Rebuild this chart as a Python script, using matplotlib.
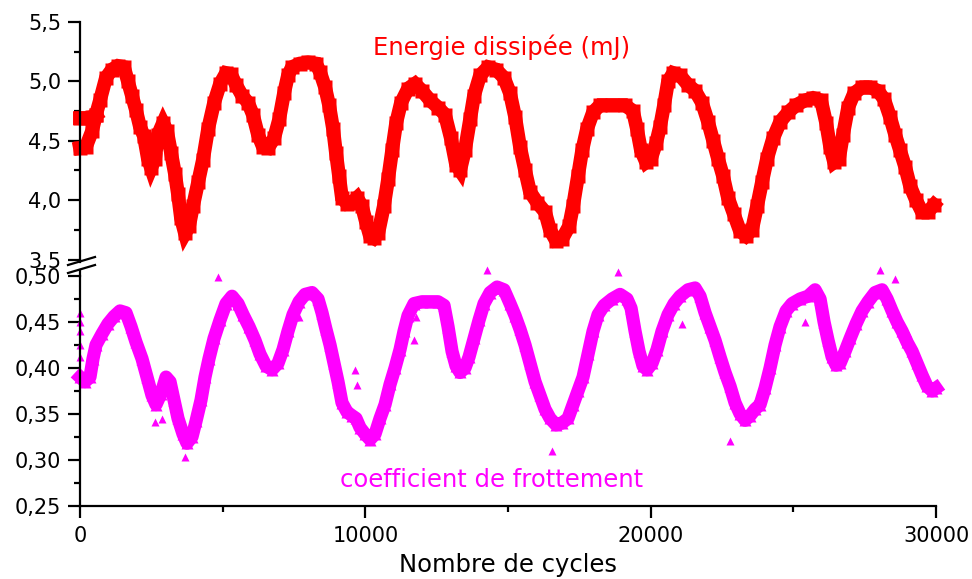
import matplotlib
matplotlib.use('Agg')
import matplotlib.pyplot as plt
from matplotlib.lines import Line2D
from matplotlib.ticker import MultipleLocator

# ---------------- data ----------------
cycles_energy = [0, 210, 420, 560, 700, 910, 1120, 1330, 1540, 1680, 1820, 1960, 2100, 2240,
                 2380, 2490, 2630, 2730, 2910, 3050, 3190, 3330, 3435, 3540, 3680, 3820,
                 3960, 4140, 4310, 4490, 4700, 4910, 5120, 5290, 5470, 5680, 5890, 6060,
                 6240, 6410, 6590, 6800, 6980, 7150, 7290, 7430, 7710, 7990, 8270, 8410,
                 8590, 8730, 8870, 8970, 9080, 9180, 9360, 9530, 9710, 9880, 10020, 10160,
                 10300, 10450, 10650, 10800, 10940, 11080, 11250, 11500, 11740, 11990,
                 12270, 12550, 12790, 13000, 13180, 13320, 13490, 13670, 13810, 14020,
                 14300, 14580, 14860, 15070, 15250, 15420, 15600, 15770, 16020, 16300,
                 16470, 16680, 16890, 17140, 17280, 17450, 17600, 17770, 17980, 18230,
                 18650, 19100, 19380, 19520, 19660, 19840, 20010, 20190, 20330, 20470,
                 20610, 20790, 21030, 21310, 21560, 21800, 22010, 22190, 22360, 22540,
                 22710, 22920, 23130, 23340, 23550, 23730, 23900, 24080, 24290, 24540,
                 24820, 25100, 25410, 25690, 25970, 26150, 26290, 26430, 26600, 26740,
                 26920, 27130, 27410, 27690, 27970, 28180, 28390, 28570, 28740, 28920,
                 29090, 29300, 29510, 29720, 29930]
energy_mJ = [4.44, 4.45, 4.58, 4.72, 4.84, 5.03, 5.10, 5.13, 5.12, 5.00, 4.88, 4.76, 4.62, 4.54,
             4.35, 4.27, 4.35, 4.55, 4.65, 4.58, 4.40, 4.22, 4.05, 3.85, 3.72, 3.78,
             3.95, 4.15, 4.34, 4.60, 4.82, 4.98, 5.07, 5.06, 4.97, 4.88, 4.82, 4.72,
             4.55, 4.45, 4.44, 4.52, 4.68, 4.90, 5.05, 5.12, 5.15, 5.16, 5.15, 5.08,
             4.95, 4.80, 4.60, 4.40, 4.20, 4.02, 3.97, 3.98, 4.02, 3.95, 3.82, 3.70,
             3.68, 3.72, 3.95, 4.18, 4.42, 4.65, 4.82, 4.94, 4.98, 4.92,
             4.84, 4.78, 4.72, 4.52, 4.30, 4.25, 4.42, 4.68, 4.88, 5.05,
             5.12, 5.10, 5.03, 4.90, 4.70, 4.45, 4.25, 4.07, 3.98, 3.90,
             3.75, 3.66, 3.67, 3.78, 3.95, 4.20, 4.42, 4.60, 4.74, 4.80,
             4.80, 4.80, 4.75, 4.60, 4.42, 4.32, 4.35, 4.48, 4.62, 4.80,
             5.00, 5.07, 5.05, 4.97, 4.92, 4.82, 4.66, 4.50, 4.35, 4.20,
             4.02, 3.88, 3.74, 3.70, 3.75, 3.95, 4.15, 4.35, 4.52, 4.66,
             4.74, 4.80, 4.84, 4.86, 4.84, 4.65, 4.45, 4.32, 4.35, 4.55,
             4.78, 4.90, 4.95, 4.95, 4.92, 4.85, 4.70, 4.55, 4.42, 4.28,
             4.12, 4.00, 3.90, 3.90, 3.96]
cycles_energy_start = [0, 210, 420, 560]
energy_start = [4.69, 4.69, 4.70, 4.72]

cycles_friction = [0, 175, 350, 456, 561, 771, 981, 1192, 1402, 1612, 1788, 1963, 2173, 2348,
                   2524, 2664, 2839, 3014, 3155, 3295, 3435, 3610, 3750, 3926, 4066, 4241,
                   4381, 4521, 4697, 4907, 5117, 5328, 5538, 5713, 5923, 6134, 6309, 6519,
                   6730, 6940, 7115, 7290, 7466, 7676, 7886, 8132, 8342, 8482, 8622, 8763,
                   8903, 9043, 9183, 9358, 9534, 9674, 9814, 9989, 10165, 10340, 10515,
                   10690, 10866, 11041, 11216, 11356, 11496, 11707, 11987, 12268, 12548,
                   12758, 12898, 13039, 13179, 13319, 13494, 13635, 13810, 13985, 14160,
                   14371, 14616, 14861, 15072, 15247, 15422, 15597, 15773, 15948, 16123,
                   16298, 16474, 16684, 16894, 17104, 17280, 17455, 17630, 17805, 17981,
                   18156, 18366, 18647, 18927, 19172, 19313, 19453, 19593, 19733, 19873,
                   20049, 20224, 20399, 20609, 20820, 21030, 21310, 21556, 21731, 21906,
                   22082, 22257, 22432, 22607, 22783, 22958, 23133, 23308, 23484, 23659,
                   23834, 24009, 24185, 24360, 24535, 24745, 24956, 25236, 25516, 25762,
                   25937, 26077, 26217, 26358, 26498, 26638, 26813, 26989, 27199, 27409,
                   27619, 27864, 28110, 28286, 28461, 28636, 28811, 28986, 29162, 29337,
                   29512, 29687, 29863, 30000]
friction = [0.390, 0.385, 0.390, 0.410, 0.425, 0.437, 0.448, 0.456, 0.462, 0.460, 0.445, 0.428,
            0.410, 0.390, 0.370, 0.360, 0.372, 0.390, 0.385, 0.365, 0.345, 0.328, 0.318,
            0.325, 0.342, 0.365, 0.390, 0.410, 0.432, 0.452, 0.470, 0.478, 0.470, 0.458,
            0.445, 0.430, 0.415, 0.402, 0.398, 0.405, 0.420, 0.440, 0.458, 0.472, 0.480,
            0.482, 0.475, 0.460, 0.442, 0.425, 0.405, 0.385, 0.362, 0.352, 0.348, 0.345,
            0.335, 0.328, 0.322, 0.328, 0.345, 0.360, 0.382, 0.400, 0.420, 0.440, 0.457,
            0.470, 0.472, 0.472, 0.472, 0.468, 0.445, 0.418, 0.402, 0.395, 0.400, 0.412,
            0.432, 0.452, 0.470, 0.482, 0.488, 0.485, 0.470, 0.457, 0.442, 0.425, 0.405,
            0.385, 0.370, 0.355, 0.345, 0.338, 0.340, 0.345, 0.360, 0.375, 0.390, 0.415,
            0.440, 0.458, 0.468, 0.475, 0.480, 0.475, 0.465, 0.440, 0.418, 0.402, 0.398,
            0.405, 0.420, 0.440, 0.458, 0.470, 0.478, 0.485, 0.487, 0.478, 0.460, 0.445,
            0.430, 0.412, 0.395, 0.380, 0.362, 0.350, 0.343, 0.348, 0.355, 0.360, 0.378,
            0.400, 0.425, 0.445, 0.462, 0.470, 0.475, 0.478, 0.485, 0.475, 0.450, 0.430,
            0.412, 0.403, 0.405, 0.418, 0.432, 0.448, 0.462, 0.472, 0.482, 0.485, 0.475,
            0.462, 0.450, 0.440, 0.428, 0.418, 0.405, 0.392, 0.380, 0.375, 0.378]
cycles_friction_outliers = [0, 0, 0, 0, 0, 4840, 2630, 2870, 3680, 7670, 9640, 9710, 11690,
                            11760, 14280, 15140, 16540, 18840, 21110, 22780, 22780, 25410,
                            28040, 28570, 29020, 29200]
friction_outliers = [0.460, 0.450, 0.440, 0.425, 0.412, 0.499, 0.341, 0.344, 0.303, 0.455,
                     0.398, 0.381, 0.430, 0.455, 0.507, 0.470, 0.310, 0.504, 0.448, 0.320,
                     0.382, 0.450, 0.507, 0.497, 0.437, 0.423]

top_ticks = [3.5, 4.0, 4.5, 5.0, 5.5]
top_tick_labels = ['3,5', '4,0', '4,5', '5,0', '5,5']
bottom_ticks = [0.25, 0.30, 0.35, 0.40, 0.45, 0.50]
bottom_tick_labels = ['0,25', '0,30', '0,35', '0,40', '0,45', '0,50']
x_ticks = [0, 10000, 20000, 30000]
x_tick_labels = ['0', '10000', '20000', '30000']

energy_label = 'Energie dissipée (mJ)'
friction_label = 'coefficient de frottement'
x_label = 'Nombre de cycles'

# ---------------- figure ----------------
W, H = 972, 579
fig = plt.figure(figsize=(W / 100, H / 100), dpi=100)
plt.rcParams['font.family'] = ['DejaVu Sans']

L, R = 80, 936
def fx(px):
    return px / W
def fy(py):
    return 1 - py / H

ax_top = fig.add_axes([fx(L), fy(259.5), (R - L) / W, (259.5 - 22) / H])
ax_bot = fig.add_axes([fx(L), fy(505.7), (R - L) / W, (505.7 - 276) / H])

RED = '#FF0000'
MAG = '#FF00FF'

ax_top.plot(cycles_energy, energy_mJ, color=RED, lw=10, marker='s', ms=10,
            mec='none', solid_joinstyle='miter', clip_on=False)
ax_top.plot(cycles_energy_start, energy_start, color=RED, lw=10, marker='s', ms=10,
            mec='none', clip_on=False)

ax_bot.plot(cycles_friction, friction, color=MAG, lw=9.5, solid_joinstyle='round',
            clip_on=False)
ax_bot.plot(cycles_friction, friction, ls='none', color=MAG, marker='^', ms=8,
            mec='none', clip_on=False)
ax_bot.plot(cycles_friction_outliers, friction_outliers, ls='none', color=MAG, marker='^',
            ms=5.5, mec='none', clip_on=False)

for ax in (ax_top, ax_bot):
    ax.set_xlim(0, 30000)
    ax.spines['top'].set_visible(False)
    ax.spines['right'].set_visible(False)
    ax.spines['left'].set_linewidth(1.6)
    ax.spines['bottom'].set_linewidth(1.6)
    ax.tick_params(axis='both', which='major', direction='out', length=8.5, width=1.6,
                   labelsize=15, pad=5)
    ax.tick_params(axis='both', which='minor', direction='out', length=4, width=1.6)
    ax.set_facecolor('none')

ax_top.set_ylim(3.5, 5.5)
ax_top.set_yticks(top_ticks, top_tick_labels)
ax_top.yaxis.set_minor_locator(MultipleLocator(0.25))
ax_top.spines['bottom'].set_visible(False)
ax_top.tick_params(axis='x', which='both', bottom=False, labelbottom=False)

ax_bot.set_ylim(0.25, 0.50)
ax_bot.set_yticks(bottom_ticks, bottom_tick_labels)
ax_bot.yaxis.set_minor_locator(MultipleLocator(0.025))
ax_bot.set_xticks(x_ticks, x_tick_labels)
ax_bot.xaxis.set_minor_locator(MultipleLocator(5000))
ax_bot.tick_params(axis='x', which='major', pad=6)

ax_top.text(14790, 5.223, energy_label, color=RED, fontsize=17.5, ha='center',
            va='baseline')
ax_bot.text(14440, 0.2704, friction_label, color=MAG, fontsize=17.5, ha='center',
            va='baseline')

ax_bot.set_xlabel(x_label, fontsize=17.5)
ax_bot.xaxis.set_label_coords(0.5, -0.205)

# axis break marks and spine pieces
lw_break = 1.6
fig.add_artist(Line2D([fx(68), fx(95)], [fy(265), fy(257)], color='black', lw=lw_break))
fig.add_artist(Line2D([fx(68), fx(95)], [fy(273), fy(265)], color='black', lw=lw_break))
fig.add_artist(Line2D([fx(L), fx(L)], [fy(259.5), fy(261.5)], color='black', lw=1.6))
fig.add_artist(Line2D([fx(L), fx(L)], [fy(269.5), fy(276)], color='black', lw=1.6))

fig.savefig('out.png', dpi=100, facecolor='white')
